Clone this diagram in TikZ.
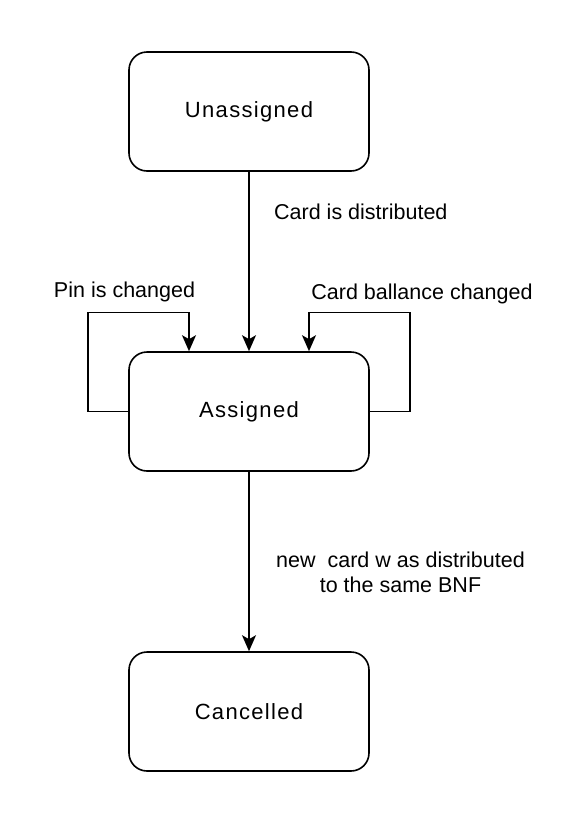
\documentclass[tikz,border=0pt]{standalone}
\usepackage{fontspec}
\setmainfont{Liberation Sans}
\newfontfamily\statefont[LetterSpace=6]{Liberation Sans}
\usetikzlibrary{arrows.meta}
\tikzset{
  state/.style={shape=rectangle, rounded corners=18pt, draw=black, line width=1.6pt,
    minimum width=240pt, minimum height=119pt, font=\statefont\fontsize{22}{26}\selectfont},
  trans/.style={-{Stealth[length=16pt,width=14pt,inset=4pt]}, line width=1.6pt, draw=black},
  lbl/.style={font=\fontsize{21.5}{25}\selectfont, inner sep=0pt}
}
\begin{document}
\begin{tikzpicture}[x=1pt,y=-1pt]
\useasboundingbox (0,0) rectangle (582,822);
\node[state] (unassigned) at (249,111.5) {Unassigned};
\node[state] (assigned) at (249,411.5) {Assigned};
\node[state] (cancelled) at (249,711.5) {Cancelled};
\node[lbl, anchor=west] (distributed) at (274,212) {Card is distributed};
\node[lbl] (pin) at (124.5,292) {Pin is changed};
\node[lbl] (ballance) at (422,294) {Card ballance changed};
\node[lbl, align=center] (newcard) at (400.5,572) {new~ card w as distributed\\to the same BNF};
\path [trans] (unassigned) edge (assigned);
\path [trans] (assigned) edge (cancelled);
\draw [trans] (assigned.west) -| ++(-40,-99) -| ([xshift=-60pt]assigned.north);
\draw [trans] (assigned.east) -| ++(40,-99) -| ([xshift=60pt]assigned.north);
\end{tikzpicture}
\end{document}
